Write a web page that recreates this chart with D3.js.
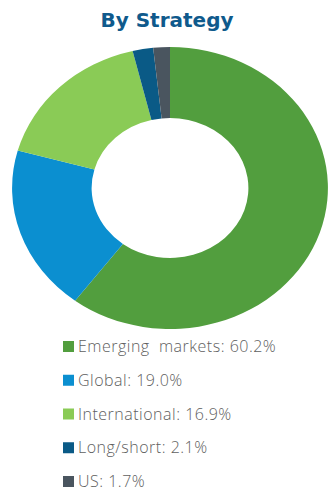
<!DOCTYPE html>
<html>
<head>
<meta charset="utf-8">
<script src="https://cdn.jsdelivr.net/npm/d3@7"></script>
<style>
  html, body { margin: 0; padding: 0; background: #fff; }
  svg { display: block; }
</style>
</head>
<body>
<div id="chart"></div>
<script>
const categories = ['Emerging  markets', 'Global', 'International', 'Long/short', 'US'];
const shares = [60.2, 19.0, 16.9, 2.1, 1.7];
const colors = ['#529e3e', '#0b8fd0', '#8acb56', '#0a5a86', '#4a555f'];

const W = 329, H = 491;
const cx = 170, cy = 188;
const outerR = 141, innerR = 70;
const stretchX = 1.12; // reference donut is a bit wider than tall

const svg = d3.select('#chart').append('svg')
  .attr('width', W).attr('height', H);

// ── Title ──
svg.append('text')
  .attr('x', 167).attr('y', 27)
  .attr('text-anchor', 'middle')
  .attr('fill', '#0f5a8c')
  .style('font-family', '"DejaVu Sans", sans-serif')
  .style('font-weight', 700)
  .style('font-size', '20px')
  .text('By Strategy');

// ── Donut ──
const data = categories.map((c, i) => ({ name: c, value: shares[i], color: colors[i] }));
const pie = d3.pie().value(d => d.value).sort(null);
const arc = d3.arc().innerRadius(innerR).outerRadius(outerR);

const g = svg.append('g')
  .attr('transform', `translate(${cx},${cy}) scale(${stretchX},1)`);

g.selectAll('path')
  .data(pie(data)).enter().append('path')
  .attr('d', arc)
  .attr('fill', d => d.data.color);

// ── Legend ──
const legendY = d3.scalePoint()
  .domain(categories)
  .range([346, 481]);

const legend = svg.append('g');
const rows = legend.selectAll('g')
  .data(data).enter().append('g')
  .attr('transform', d => `translate(63,${legendY(d.name)})`);

rows.append('rect')
  .attr('x', 0).attr('y', -5)
  .attr('width', 11).attr('height', 11)
  .attr('fill', d => d.color);

rows.append('text')
  .attr('x', 15).attr('y', 6)
  .attr('fill', '#606060')
  .style('font-family', '"Open Sans", sans-serif')
  .style('font-weight', 300)
  .style('font-size', '16px')
  .style('letter-spacing', '0.5px')
  .style('white-space', 'pre')
  .text(d => `${d.name}: ${d.value.toFixed(1)}%`);
</script>
</body>
</html>
